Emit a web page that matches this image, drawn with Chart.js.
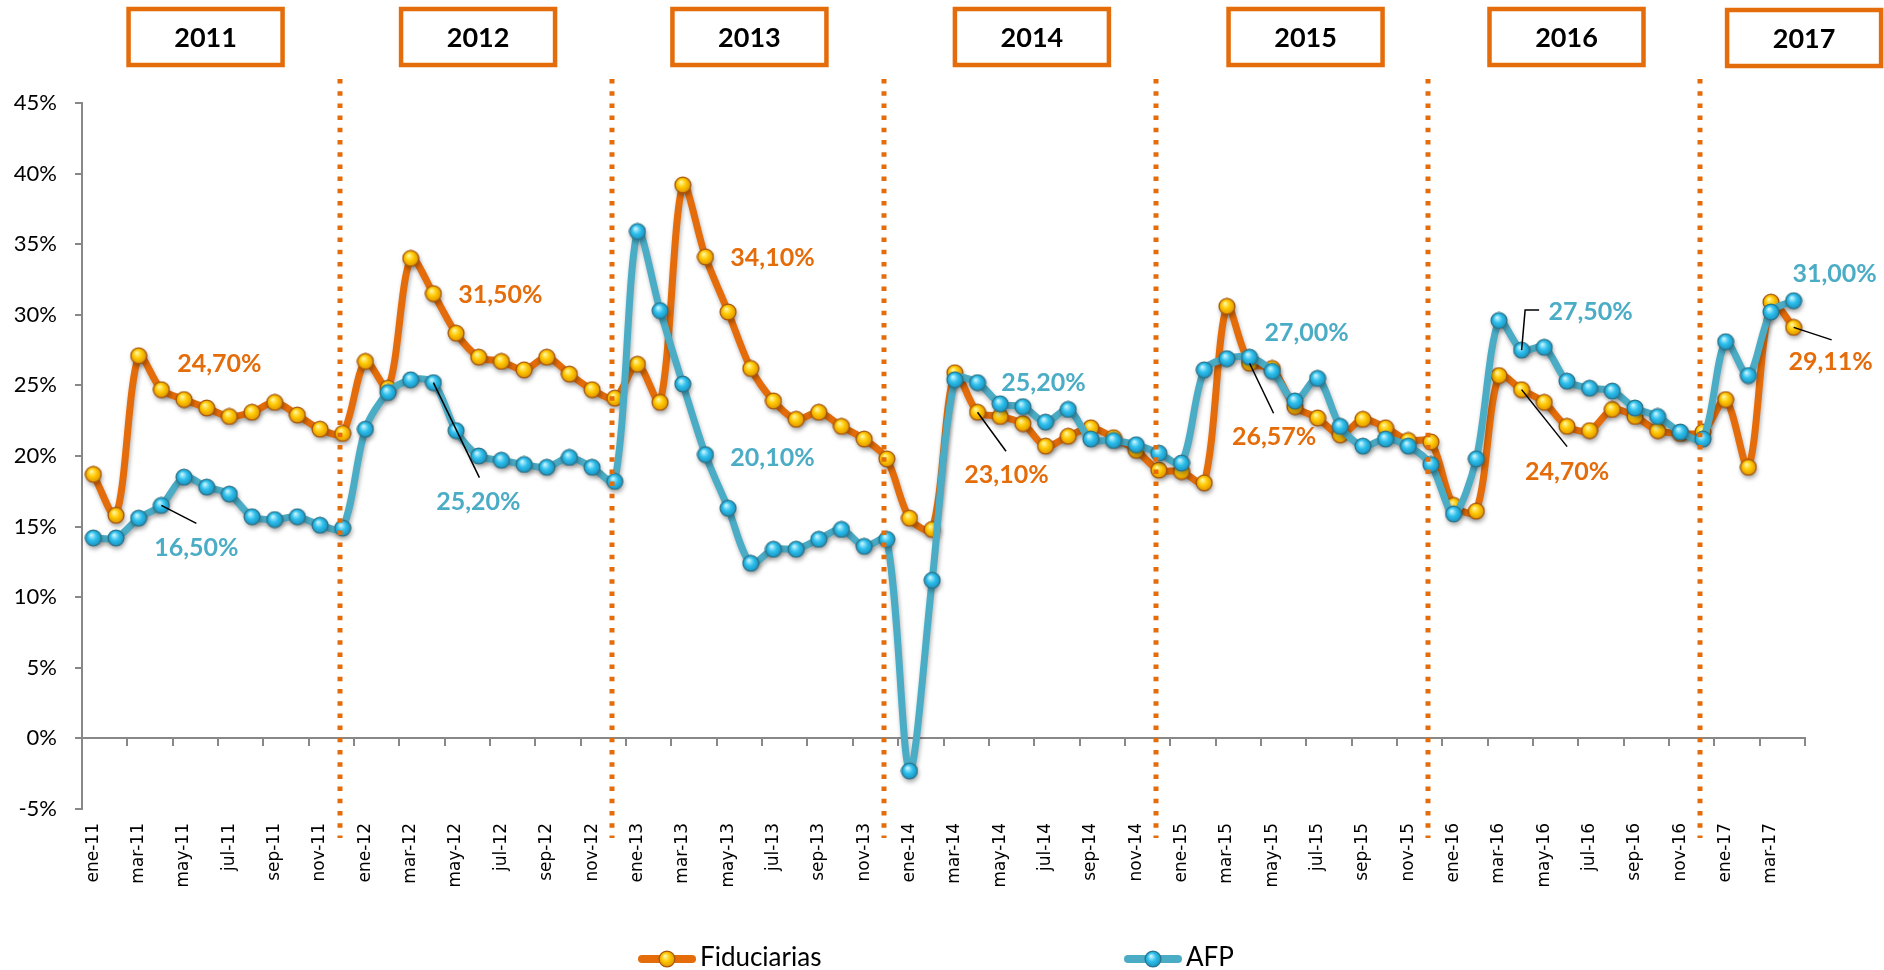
<!DOCTYPE html>
<html>
<head>
<meta charset="utf-8">
<script src="https://cdn.jsdelivr.net/npm/chart.js@4.4.1/dist/chart.umd.min.js"></script>
<style>
html, body { margin: 0; padding: 0; background: #fff; }
#wrap { width: 1884px; height: 970px; }
</style>
</head>
<body>
<div id="wrap"><canvas id="rentabilidad" width="1884" height="970"></canvas></div>
<script>
// categories
var months = ['ene', 'feb', 'mar', 'abr', 'may', 'jun', 'jul', 'ago', 'sep', 'oct', 'nov', 'dic'];
var years = ['11', '12', '13', '14', '15', '16', '17'];
var lastYearMonths = 4;
var yearTitles = ['2011', '2012', '2013', '2014', '2015', '2016', '2017'];

// series (%)
var fiduciarias = [
    18.7, 15.8, 27.1, 24.7, 24.0, 23.4, 22.8, 23.1, 23.8, 22.9, 21.9, 21.6,
    26.7, 24.8, 34.0, 31.5, 28.7, 27.0, 26.7, 26.1, 27.0, 25.8, 24.7, 24.1,
    26.5, 23.8, 39.2, 34.1, 30.2, 26.2, 23.9, 22.6, 23.1, 22.1, 21.2, 19.8,
    15.6, 14.8, 25.9, 23.1, 22.8, 22.3, 20.7, 21.4, 22.0, 21.3, 20.4, 19.0,
    18.9, 18.1, 30.6, 26.57, 26.2, 23.5, 22.7, 21.5, 22.6, 22.0, 21.1, 21.0,
    16.5, 16.1, 25.7, 24.7, 23.8, 22.1, 21.8, 23.3, 22.8, 21.8, 21.6, 21.7,
    24.0, 19.2, 30.9, 29.11
];
var afp = [
    14.2, 14.2, 15.6, 16.5, 18.5, 17.8, 17.3, 15.7, 15.5, 15.7, 15.1, 14.9,
    21.9, 24.5, 25.4, 25.2, 21.8, 20.0, 19.7, 19.4, 19.2, 19.9, 19.2, 18.2,
    35.9, 30.3, 25.1, 20.1, 16.3, 12.4, 13.4, 13.4, 14.1, 14.8, 13.6, 14.1,
    -2.3, 11.2, 25.4, 25.2, 23.7, 23.5, 22.4, 23.3, 21.2, 21.1, 20.8, 20.2,
    19.5, 26.1, 26.9, 27.0, 26.0, 23.9, 25.5, 22.1, 20.7, 21.2, 20.7, 19.4,
    15.9, 19.8, 29.6, 27.5, 27.7, 25.3, 24.8, 24.6, 23.4, 22.8, 21.7, 21.2,
    28.1, 25.7, 30.2, 31.0
];

// y axis
var yMin = -5;
var yMax = 45;
var yStep = 5;

var ORANGE = '#E46C0A';
var BLUE = '#4BACC6';

var labels = [];
years.forEach(function (yy, y) {
    var n = (y === years.length - 1) ? lastYearMonths : 12;
    for (var m = 0; m < n; m++) labels.push(months[m] + '-' + yy);
});

// labelled points: dataset, index, label offset, optional leader line
var callouts = [
    { ds: 0, idx: 3,  dx: 58,   dy: -26 },
    { ds: 1, idx: 3,  dx: 35,   dy: 43,  leader: [[35, 18]] },
    { ds: 0, idx: 15, dx: 67,   dy: 1 },
    { ds: 1, idx: 15, dx: 45,   dy: 119, leader: [[46, 95]] },
    { ds: 0, idx: 27, dx: 67,   dy: 1 },
    { ds: 1, idx: 27, dx: 67,   dy: 3 },
    { ds: 0, idx: 39, dx: 29,   dy: 63,  leader: [[28.5, 39]] },
    { ds: 1, idx: 39, dx: 66,   dy: 0 },
    { ds: 1, idx: 51, dx: 57,   dy: -24 },
    { ds: 0, idx: 51, dx: 24.5, dy: 74,  leader: [[24, 50]] },
    { ds: 1, idx: 63, dx: 69,   dy: -38, leader: [[3.5, -40], [17.5, -40]] },
    { ds: 0, idx: 63, dx: 45.5, dy: 82,  leader: [[45.5, 57]] },
    { ds: 1, idx: 75, dx: 41,   dy: -27 },
    { ds: 0, idx: 75, dx: 37,   dy: 35,  leader: [[38, 12.5]] }
];

// where the year boxes sit, in category units, and the december separators
var yearBoxAt = [4.95, 16.97, 28.94, 41.4, 53.47, 64.98, 75.46];
var separatorAt = [11, 23, 35, 47, 59, 71];

function pct(v) {
    return v.toFixed(2).replace('.', ',') + '%';
}

function makeBall(light, mid, dark, rim) {
    var c = document.createElement('canvas');
    c.width = 18;
    c.height = 18;
    var g = c.getContext('2d');
    var grad = g.createRadialGradient(7, 6, 0.5, 9, 9, 9);
    grad.addColorStop(0, light);
    grad.addColorStop(0.45, mid);
    grad.addColorStop(1, dark);
    g.beginPath();
    g.arc(9, 9, 7.9, 0, Math.PI * 2);
    g.fillStyle = grad;
    g.fill();
    g.lineWidth = 1.3;
    g.strokeStyle = rim;
    g.stroke();
    return c;
}
var ballFid = makeBall('#FFF7A0', '#FFC800', '#D88A00', '#A8560A');
var ballAfp = makeBall('#C8F4FF', '#2EC0EC', '#1588B8', '#2B7489');

var shadowPlugin = {
    id: 'lineShadow',
    beforeDatasetDraw: function (chart) {
        var ctx = chart.ctx;
        ctx.save();
        ctx.shadowColor = 'rgba(0, 0, 0, 0.3)';
        ctx.shadowBlur = 4;
        ctx.shadowOffsetX = 1;
        ctx.shadowOffsetY = 3;
    },
    afterDatasetDraw: function (chart) {
        chart.ctx.restore();
    }
};

var decorPlugin = {
    id: 'decor',
    afterDatasetsDraw: function (chart) {
        var ctx = chart.ctx;
        var xs = chart.scales.x;
        var area = chart.chartArea;

        // dotted year separators
        ctx.save();
        ctx.strokeStyle = ORANGE;
        ctx.lineWidth = 5;
        ctx.setLineDash([4.5, 7.7]);
        separatorAt.forEach(function (i) {
            var x = Math.round(xs.getPixelForValue(i - 0.13));
            ctx.beginPath();
            ctx.moveTo(x, area.top - 24);
            ctx.lineTo(x, area.bottom + 29);
            ctx.stroke();
        });
        ctx.restore();

        // value labels
        ctx.save();
        ctx.font = 'bold 25px Lato';
        ctx.textAlign = 'center';
        ctx.textBaseline = 'middle';
        callouts.forEach(function (c) {
            var ds = chart.data.datasets[c.ds];
            var pt = chart.getDatasetMeta(c.ds).data[c.idx];
            if (c.leader) {
                ctx.beginPath();
                ctx.moveTo(pt.x, pt.y);
                c.leader.forEach(function (p) {
                    ctx.lineTo(pt.x + p[0], pt.y + p[1]);
                });
                ctx.strokeStyle = '#000';
                ctx.lineWidth = 1.5;
                ctx.stroke();
            }
            ctx.fillStyle = ds.borderColor;
            ctx.fillText(pct(ds.data[c.idx]), pt.x + c.dx, pt.y + c.dy);
        });
        ctx.restore();
    },
    afterDraw: function (chart) {
        var ctx = chart.ctx;
        var xs = chart.scales.x;

        // year boxes
        ctx.save();
        ctx.font = 'bold 27px Lato';
        ctx.textAlign = 'center';
        ctx.textBaseline = 'middle';
        yearTitles.forEach(function (t, i) {
            var cx = xs.getPixelForValue(yearBoxAt[i]);
            var top = i === yearTitles.length - 1 ? 10 : 9;
            ctx.fillStyle = '#fff';
            ctx.fillRect(cx - 77, top, 154, 56);
            ctx.strokeStyle = ORANGE;
            ctx.lineWidth = 4.5;
            ctx.strokeRect(cx - 77, top, 154, 56);
            ctx.fillStyle = '#000';
            ctx.fillText(t, cx, top + 29);
        });
        ctx.restore();

        // legend
        ctx.save();
        ctx.font = '26px Lato';
        ctx.textBaseline = 'middle';
        var items = [{ ds: 0, x: 638, ball: ballFid }, { ds: 1, x: 1124, ball: ballAfp }];
        items.forEach(function (it) {
            var ds = chart.data.datasets[it.ds];
            var y = 959;
            ctx.strokeStyle = ds.borderColor;
            ctx.lineWidth = 8;
            ctx.lineCap = 'round';
            ctx.beginPath();
            ctx.moveTo(it.x + 4, y);
            ctx.lineTo(it.x + 54, y);
            ctx.stroke();
            ctx.drawImage(it.ball, it.x + 29 - 9, y - 9);
            ctx.fillStyle = '#000';
            ctx.fillText(ds.label, it.x + 62, y - 1);
        });
        ctx.restore();
    }
};

var ctx = document.getElementById('rentabilidad').getContext('2d');
new Chart(ctx, {
    type: 'line',
    data: {
        labels: labels,
        datasets: [{
            label: 'Fiduciarias',
            data: fiduciarias,
            borderColor: ORANGE,
            backgroundColor: ORANGE,
            borderWidth: 7,
            tension: 0.3,
            borderCapStyle: 'round',
            borderJoinStyle: 'round',
            pointStyle: ballFid,
            pointRadius: 8,
            order: 1
        }, {
            label: 'AFP',
            data: afp,
            borderColor: BLUE,
            backgroundColor: BLUE,
            borderWidth: 7,
            tension: 0.3,
            borderCapStyle: 'round',
            borderJoinStyle: 'round',
            pointStyle: ballAfp,
            pointRadius: 8,
            order: 0
        }]
    },
    options: {
        responsive: false,
        animation: false,
        layout: { padding: { top: 103, right: 79, left: 0, bottom: 0 } },
        plugins: {
            legend: { display: false },
            tooltip: { enabled: false }
        },
        scales: {
            x: {
                type: 'category',
                position: 'bottom',
                offset: true,
                grid: { display: false, drawTicks: false },
                border: { display: false },
                ticks: {
                    autoSkip: false,
                    minRotation: 90,
                    maxRotation: 90,
                    padding: 14,
                    color: '#000',
                    font: { family: 'DejaVu Sans', size: 17 },
                    callback: function (v, i) {
                        return i % 2 === 0 ? this.getLabelForValue(v) : '';
                    }
                },
                afterFit: function (s) { s.height = 161; }
            },
            xz: {
                type: 'category',
                position: { y: 0 },
                offset: true,
                grid: {
                    offset: true,
                    drawOnChartArea: false,
                    drawTicks: true,
                    tickLength: 7,
                    lineWidth: 2,
                    color: function (c) {
                        return (c.index === undefined || c.index % 2 === 0) ? '#888888' : 'rgba(0,0,0,0)';
                    }
                },
                border: { display: true, color: '#888888', width: 2 },
                ticks: { display: false }
            },
            y: {
                position: 'left',
                min: yMin,
                max: yMax,
                grid: { drawOnChartArea: false, drawTicks: true, tickLength: 7, color: '#888888', lineWidth: 2 },
                border: { color: '#888888', width: 2 },
                ticks: {
                    stepSize: yStep,
                    padding: 18,
                    color: '#000',
                    font: { family: 'Lato', size: 22 },
                    callback: function (v) { return v + '%'; }
                },
                afterFit: function (s) { s.width = 82; }
            }
        }
    },
    plugins: [shadowPlugin, decorPlugin]
});
</script>
</body>
</html>
